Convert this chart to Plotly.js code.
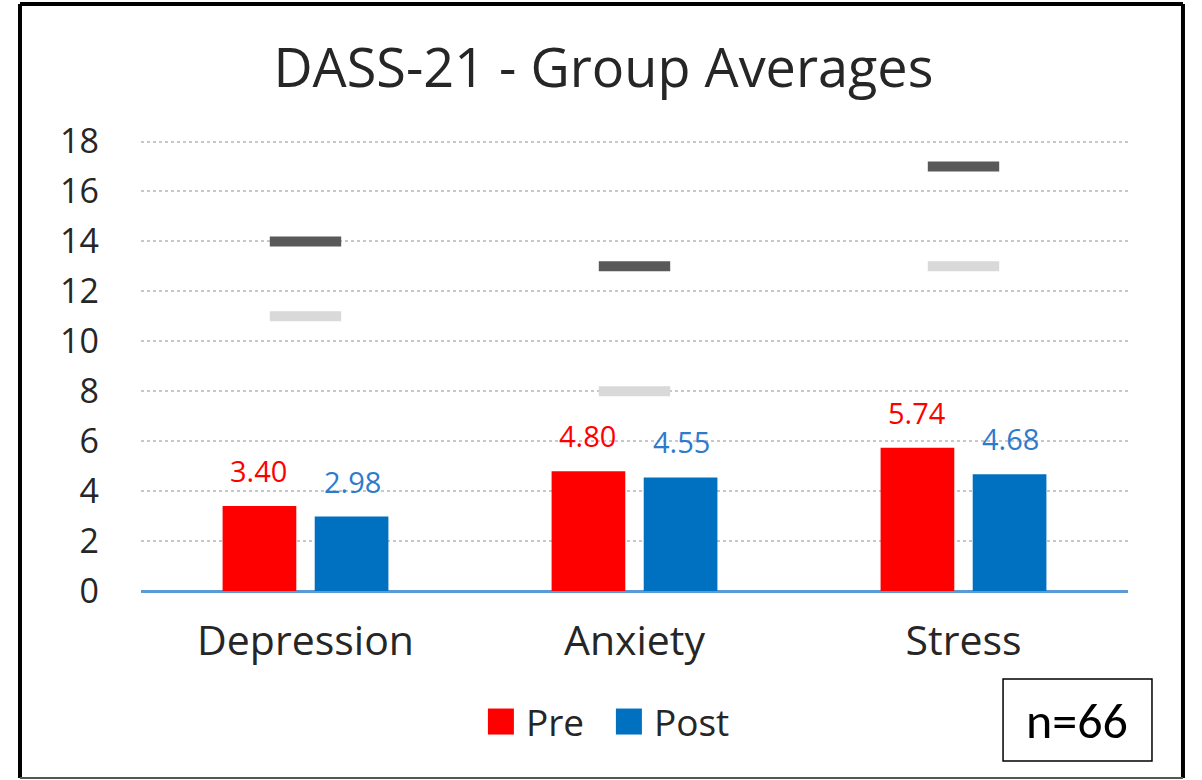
<!DOCTYPE html>
<html>
<head>
<meta charset="utf-8">
<script src="https://cdn.plot.ly/plotly-3.0.1.min.js"></script>
<style>html,body{margin:0;padding:0;background:#fff;}#chart{width:1202px;height:780px;}</style>
</head>
<body>
<div id="chart"></div>
<script>
const categories = ['Depression', 'Anxiety', 'Stress'];
const preValues = [3.40, 4.80, 5.74];
const postValues = [2.98, 4.55, 4.68];
const upperCutoff = [14, 13, 17];
const lowerCutoff = [11, 8, 13];
const yTicks = [0, 2, 4, 6, 8, 10, 12, 14, 16, 18];
const sampleLabel = 'n=66';

const RED = '#FF0000', BLUE = '#0070C0';
const FONT = 'Open Sans, Noto Sans, sans-serif';

const traces = [
  {type: 'bar', name: 'Pre', x: categories, y: preValues, marker: {color: RED}, hoverinfo: 'skip'},
  {type: 'bar', name: 'Post', x: categories, y: postValues, marker: {color: BLUE}, hoverinfo: 'skip'},
  {type: 'scatter', mode: 'markers', x: categories, y: upperCutoff, showlegend: false, hoverinfo: 'skip',
   marker: {symbol: 'line-ew', size: 51, color: '#595959', line: {color: '#595959', width: 10}}},
  {type: 'scatter', mode: 'markers', x: categories, y: lowerCutoff, showlegend: false, hoverinfo: 'skip',
   marker: {symbol: 'line-ew', size: 51, color: '#D9D9D9', line: {color: '#D9D9D9', width: 10}}}
];

const annotations = [];
categories.forEach((c, i) => {
  annotations.push({x: c, y: preValues[i], xref: 'x', yref: 'y', text: preValues[i].toFixed(2), showarrow: false,
    xshift: -47, yshift: 14, yanchor: 'bottom', font: {family: FONT, size: 29, color: RED}});
  annotations.push({x: c, y: postValues[i], xref: 'x', yref: 'y', text: postValues[i].toFixed(2), showarrow: false,
    xshift: 47, yshift: 14, yanchor: 'bottom', font: {family: FONT, size: 29, color: '#2E7BCB'}});
});
annotations.push({x: 0.9483, y: -0.2854, xref: 'paper', yref: 'paper', text: sampleLabel, showarrow: false,
  xanchor: 'center', yanchor: 'middle', font: {family: 'Carlito, Liberation Sans, sans-serif', size: 50, color: '#000'}});

const shapes = [
  {type: 'line', xref: 'paper', yref: 'paper', x0: -0.1226, x1: -0.1226, y0: 1.2987, y1: -0.4137, line: {color: '#000', width: 4}},
  {type: 'line', xref: 'paper', yref: 'paper', x0: -0.1226, x1: 1.0557, y0: 1.2987, y1: 1.2987, line: {color: '#000', width: 4}},
  {type: 'line', xref: 'paper', yref: 'paper', x0: 1.0557, x1: 1.0557, y0: 1.2987, y1: -0.4137, line: {color: '#000', width: 4}},
  {type: 'line', xref: 'paper', yref: 'paper', x0: -0.1226, x1: 1.0557, y0: -0.4137, y1: -0.4137, line: {color: '#555', width: 2}},
  {type: 'rect', xref: 'paper', yref: 'paper', x0: 0.8734, x1: 1.0243, y0: -0.1947, y1: -0.3761, line: {color: '#000', width: 1.5}}
];

const layout = {
  width: 1202, height: 780,
  margin: {l: 141, r: 74, t: 139, b: 189, pad: 0},
  paper_bgcolor: '#fff', plot_bgcolor: '#fff',
  title: {text: 'DASS-21 - Group Averages', x: 0.502, xanchor: 'center', y: 0.913, yanchor: 'middle',
          font: {family: FONT, size: 54, color: '#262626'}},
  barmode: 'group', bargap: 0.44, bargroupgap: 0.2,
  xaxis: {type: 'category', showgrid: false, showline: false, ticks: '', ticklabelstandoff: 22,
          tickfont: {family: FONT, size: 41, color: '#262626'}},
  yaxis: {range: [0, 18.1], tickvals: yTicks, ticktext: yTicks.map(String), showgrid: true, gridcolor: '#C8C8C8',
          griddash: 'dot', gridwidth: 2, zeroline: true, zerolinecolor: '#5B9BD5', zerolinewidth: 3,
          showline: false, ticks: '', ticklabelstandoff: 41, tickfont: {family: FONT, size: 34, color: '#262626'}},
  legend: {orientation: 'h', x: 0.469, xanchor: 'center', y: -0.2898, yanchor: 'middle',
           font: {family: FONT, size: 37, color: '#262626'}, itemwidth: 40, entrywidth: 73},
  showlegend: true,
  annotations: annotations,
  shapes: shapes
};

Plotly.newPlot('chart', traces, layout, {staticPlot: true, displayModeBar: false}).then(() => {
  document.querySelectorAll('.legend .legendpoints path').forEach(p => {
    p.setAttribute('d', 'M13,13H-13V-13H13Z');
  });
});
</script>
</body>
</html>
